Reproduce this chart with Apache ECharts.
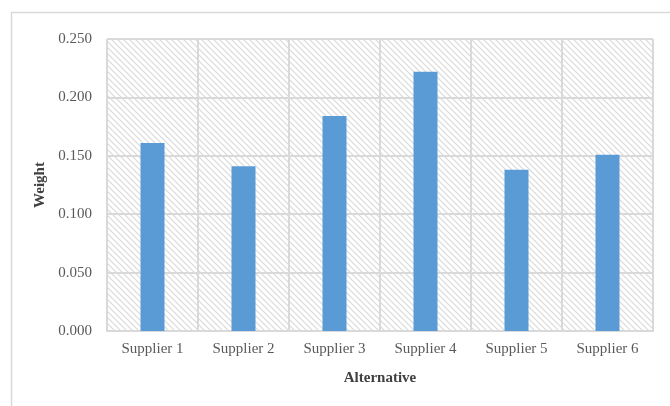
<!DOCTYPE html>
<html>
<head>
<meta charset="utf-8">
<script src="https://cdn.jsdelivr.net/npm/echarts@6/dist/echarts.min.js"></script>
<style>
  html, body { margin: 0; padding: 0; background: #fff; }
  #chart { width: 670px; height: 406px; }
</style>
</head>
<body>
<div id="chart"></div>
<script>
// Alternative suppliers and their computed weights
const categories = ['Supplier 1', 'Supplier 2', 'Supplier 3', 'Supplier 4', 'Supplier 5', 'Supplier 6'];
const weights = [0.161, 0.141, 0.184, 0.222, 0.138, 0.151];
const yTicks = { min: 0, max: 0.25, interval: 0.05 };

// Diagonal hatch tile for the plot background
function hatchTile() {
  const s = 6;
  const c = document.createElement('canvas');
  c.width = s; c.height = s;
  const ctx = c.getContext('2d');
  ctx.fillStyle = '#ffffff';
  ctx.fillRect(0, 0, s, s);
  ctx.strokeStyle = '#d9d9d9';
  ctx.lineWidth = 1.2;
  ctx.beginPath();
  ctx.moveTo(-1, -1); ctx.lineTo(s + 1, s + 1);
  ctx.moveTo(-1, s - 1); ctx.lineTo(1, s + 1);
  ctx.moveTo(s - 1, -1); ctx.lineTo(s + 1, 1);
  ctx.stroke();
  return c;
}

const chart = echarts.init(document.getElementById('chart'), null, { renderer: 'canvas' });
const font = '"Liberation Serif", "Times New Roman", serif';

chart.setOption({
  animation: false,
  backgroundColor: '#ffffff',
  graphic: [{
    type: 'rect',
    left: 9, top: 10,
    shape: { width: 700, height: 420 },
    style: { fill: 'none', stroke: '#d9d9d9', lineWidth: 1.5 },
    silent: true
  }],
  grid: {
    left: 107, right: 17, top: 39, bottom: 75,
    show: true,
    borderWidth: 0,
    backgroundColor: { image: hatchTile(), repeat: 'repeat' }
  },
  xAxis: {
    type: 'category',
    data: categories,
    name: 'Alternative',
    nameLocation: 'middle',
    nameGap: 40,
    nameTextStyle: { fontFamily: font, fontSize: 15, fontWeight: 'bold', color: '#404040' },
    axisLine: { lineStyle: { color: '#d9d9d9', width: 2 } },
    axisTick: { show: false },
    axisLabel: { fontFamily: font, fontSize: 15, color: '#595959', margin: 11 },
    splitLine: { show: true, lineStyle: { color: '#d9d9d9', width: 2 } }
  },
  yAxis: {
    type: 'value',
    min: yTicks.min, max: yTicks.max, interval: yTicks.interval,
    name: 'Weight',
    nameLocation: 'middle',
    nameGap: 56,
    nameTextStyle: { fontFamily: font, fontSize: 15, fontWeight: 'bold', color: '#404040' },
    axisLine: { show: false },
    axisTick: { show: false },
    axisLabel: {
      fontFamily: font, fontSize: 15, color: '#595959', margin: 15,
      formatter: v => v.toFixed(3)
    },
    splitLine: { show: true, lineStyle: { color: '#d9d9d9', width: 2 } }
  },
  series: [{
    type: 'bar',
    data: weights,
    barWidth: 24,
    itemStyle: { color: '#5b9bd5' }
  }]
});
</script>
</body>
</html>
